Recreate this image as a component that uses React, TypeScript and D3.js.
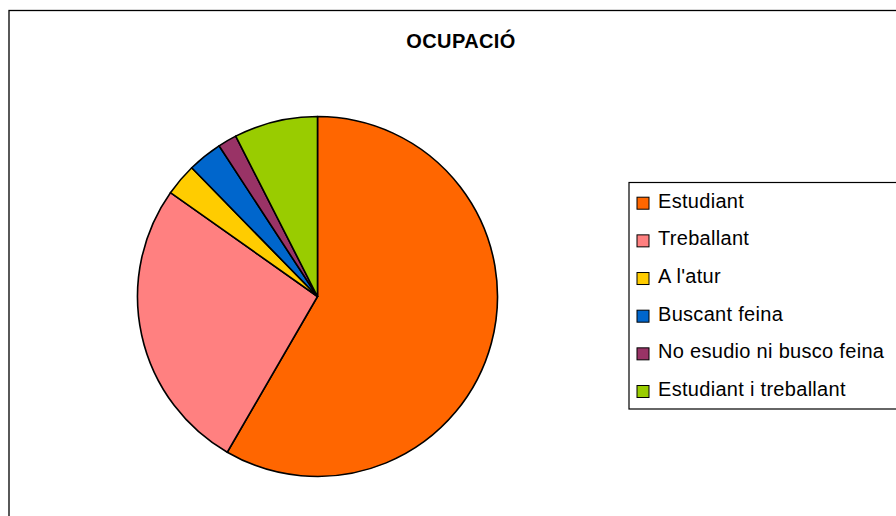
import * as d3 from "d3";

const categories = [
  "Estudiant",
  "Treballant",
  "A l'atur",
  "Buscant feina",
  "No esudio ni busco feina",
  "Estudiant i treballant",
];
const values = [58.3, 26.4, 2.9, 3.1, 1.7, 7.5];
const colors = ["#FF6600", "#FF8080", "#FFCC00", "#0066CC", "#993366", "#99CC00"];
const title = "OCUPACIÓ";

export default function App() {
  const width = 896;
  const height = 516;
  const cx = 317.5;
  const cy = 296.5;
  const radius = 180;

  const data = categories.map((c, i) => ({ label: c, value: values[i], color: colors[i] }));

  const pie = d3
    .pie<{ label: string; value: number; color: string }>()
    .value((d) => d.value)
    .sort(null);
  const arc = d3
    .arc<d3.PieArcDatum<{ label: string; value: number; color: string }>>()
    .innerRadius(0)
    .outerRadius(radius);
  const arcs = pie(data);

  const legendY = d3
    .scalePoint<number>()
    .domain(d3.range(categories.length))
    .range([207.7, 396]);

  return (
    <svg
      width={width}
      height={height}
      style={{ position: "absolute", left: 0, top: 0, background: "#fff" }}
      fontFamily="'Liberation Sans', Arial, sans-serif"
    >
      <rect x={9} y={10.5} width={1000} height={1000} fill="#fff" stroke="#000" strokeWidth={1.3} />
      <text
        x={461}
        y={48.3}
        textAnchor="middle"
        fontSize={20}
        fontWeight="bold"
        letterSpacing={0.4}
      >
        {title}
      </text>
      <g transform={`translate(${cx},${cy})`}>
        {arcs.map((a, i) => (
          <path key={i} d={arc(a) || ""} fill={a.data.color} stroke="#000" strokeWidth={1.6} strokeLinejoin="round" />
        ))}
      </g>
      <rect x={629} y={182.5} width={400} height={226.5} fill="#fff" stroke="#000" strokeWidth={1.2} />
      {data.map((d, i) => (
        <g key={d.label}>
          <rect
            x={637}
            y={legendY(i)! - 10.5}
            width={12}
            height={12}
            fill={d.color}
            stroke="#000"
            strokeWidth={1}
          />
          <text x={658} y={legendY(i)!} fontSize={20} letterSpacing={0.3}>
            {d.label}
          </text>
        </g>
      ))}
    </svg>
  );
}
